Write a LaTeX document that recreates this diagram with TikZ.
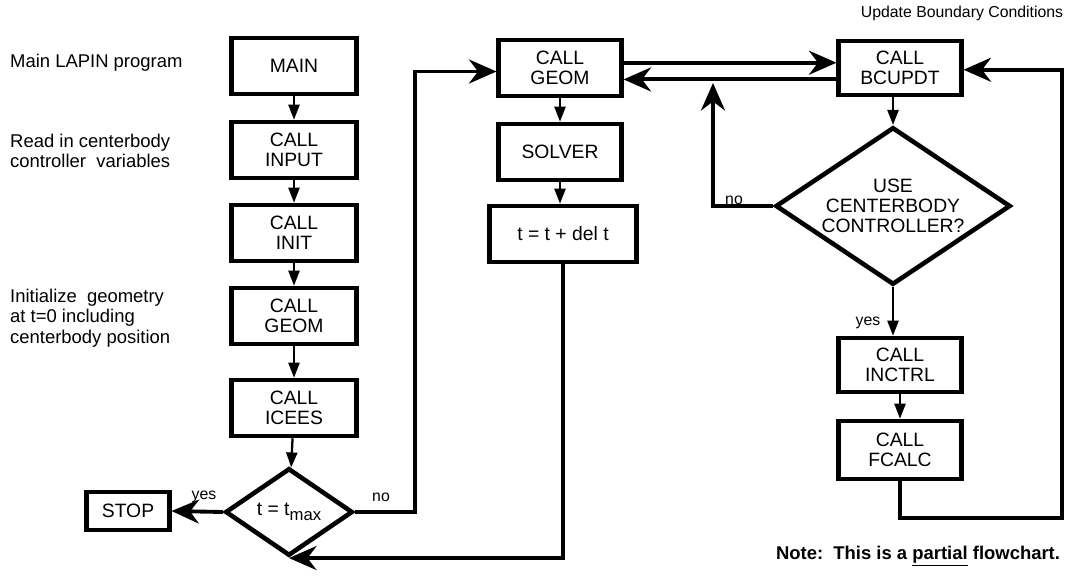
\documentclass[tikz,border=0pt]{standalone}
\usepackage{fontspec}
\setmainfont{Liberation Sans}
\usepackage{tikz}
\usetikzlibrary{arrows.meta,shapes.geometric}

\begin{document}
\begin{tikzpicture}[x=0.02cm,y=-0.02cm,
  box/.style={draw,line width=2.6pt,align=center,font=\fontsize{11}{11.5}\selectfont,
    minimum width=2.5cm,minimum height=1.12cm,inner sep=2pt},
  decide/.style={draw,diamond,aspect=1.5,line width=2.6pt,align=center,
    font=\fontsize{11}{11.5}\selectfont,inner sep=0pt},
  flow/.style={line width=1.3pt,-{Triangle[length=0.3cm,width=0.22cm]}},
  jump/.style={line width=2.2pt,-{Stealth[length=0.55cm,width=0.48cm,inset=0.18cm]}},
  note/.style={font=\fontsize{10.5}{11.8}\selectfont,align=left,anchor=west},
  tag/.style={font=\fontsize{9}{10}\selectfont}]
  \useasboundingbox (0,0) rectangle (1065,575);

  \node[note] (lblmain)  at (4,63)  {Main LAPIN program};
  \node[note] (lblinput) at (4,151) {Read in centerbody\\controller\ \ variables};
  \node[note] (lblgeom)  at (4,318) {Initialize\ \ geometry\\at t=0 including\\centerbody position};

  \node[box] (main)  at (294,66)  {MAIN};
  \node[box] (input) at (294,150) {CALL\\INPUT};
  \node[box] (init)  at (294,233) {CALL\\INIT};
  \node[box] (geomA) at (294,316) {CALL\\GEOM};
  \node[box] (icees) at (294,408) {CALL\\ICEES};
  \node[decide,minimum width=2.55cm,minimum height=1.75cm] (tmax) at (289,512)
    {t = t\raisebox{-0.5ex}{\fontsize{9.5}{10}\selectfont max}};
  \node[box,minimum width=1.65cm,minimum height=0.76cm] (stop) at (128,511) {STOP};

  \node[box,minimum width=2.45cm] (geomB)  at (560,68)  {CALL\\GEOM};
  \node[box,minimum width=2.45cm] (solver) at (560,152) {SOLVER};
  \node[box,minimum width=2.95cm] (tdel)   at (563,234) {t = t + del t};

  \node[box,minimum width=2.45cm,minimum height=1.08cm] (bcupdt) at (900,68) {CALL\\BCUPDT};
  \node[decide,minimum width=4.7cm,minimum height=3.15cm] (usectl) at (893,206)
    {USE\\CENTERBODY\\CONTROLLER?};
  \node[box,minimum width=2.45cm,minimum height=1.08cm] (inctrl) at (900,365) {CALL\\INCTRL};
  \node[box,minimum width=2.45cm,minimum height=1.16cm] (fcalc)  at (900,450) {CALL\\FCALC};

  \node[tag] (lblbc) at (962,13) {Update Boundary Conditions};
  \node[font=\bfseries\fontsize{10.5}{12}\selectfont] (lblnote) at (918,556)
    {Note:\ \ This is a \underline{partial} flowchart.};

  \node[tag] (yesA) at (204,497) {yes};
  \node[tag] (noA)  at (381,497) {no};
  \node[tag] (noB)  at (734,200) {no};
  \node[tag] (yesB) at (868,323) {yes};

  \coordinate (nojoin) at (713,83);
  \coordinate (rcorner) at (1062,518);

  \draw[flow] (main) -- (input);
  \draw[flow] (input) -- (init);
  \draw[flow] (init) -- (geomA);
  \draw[flow] (geomA) -- (icees);
  \draw[flow] (icees) -- (tmax);
  \draw[jump] (tmax.west) -- (stop.east);
  \draw[jump] (tmax.east) -- ++(60,0) |- ([yshift=-2pt]geomB.west);
  \draw[flow] (geomB) -- (solver);
  \draw[flow] (solver) -- (solver |- tdel.north);
  \draw[jump] (tdel.south) |- (tmax.south);
  \draw[jump] ([yshift=3pt]geomB.east) -- ([yshift=3pt]bcupdt.west);
  \draw[jump] ([yshift=-6.5pt]bcupdt.west) -- ([yshift=-6.5pt]geomB.east);
  \draw[jump] (usectl.west) -| (nojoin);
  \draw[flow] (bcupdt.south -| usectl.north) -- (usectl.north);
  \draw[flow] (usectl.south) -- (usectl.south |- inctrl.north);
  \draw[flow] (inctrl) -- (fcalc);
  \draw[jump] (fcalc.south) |- (rcorner) |- ([yshift=-1pt]bcupdt.east);
\end{tikzpicture}
\end{document}
